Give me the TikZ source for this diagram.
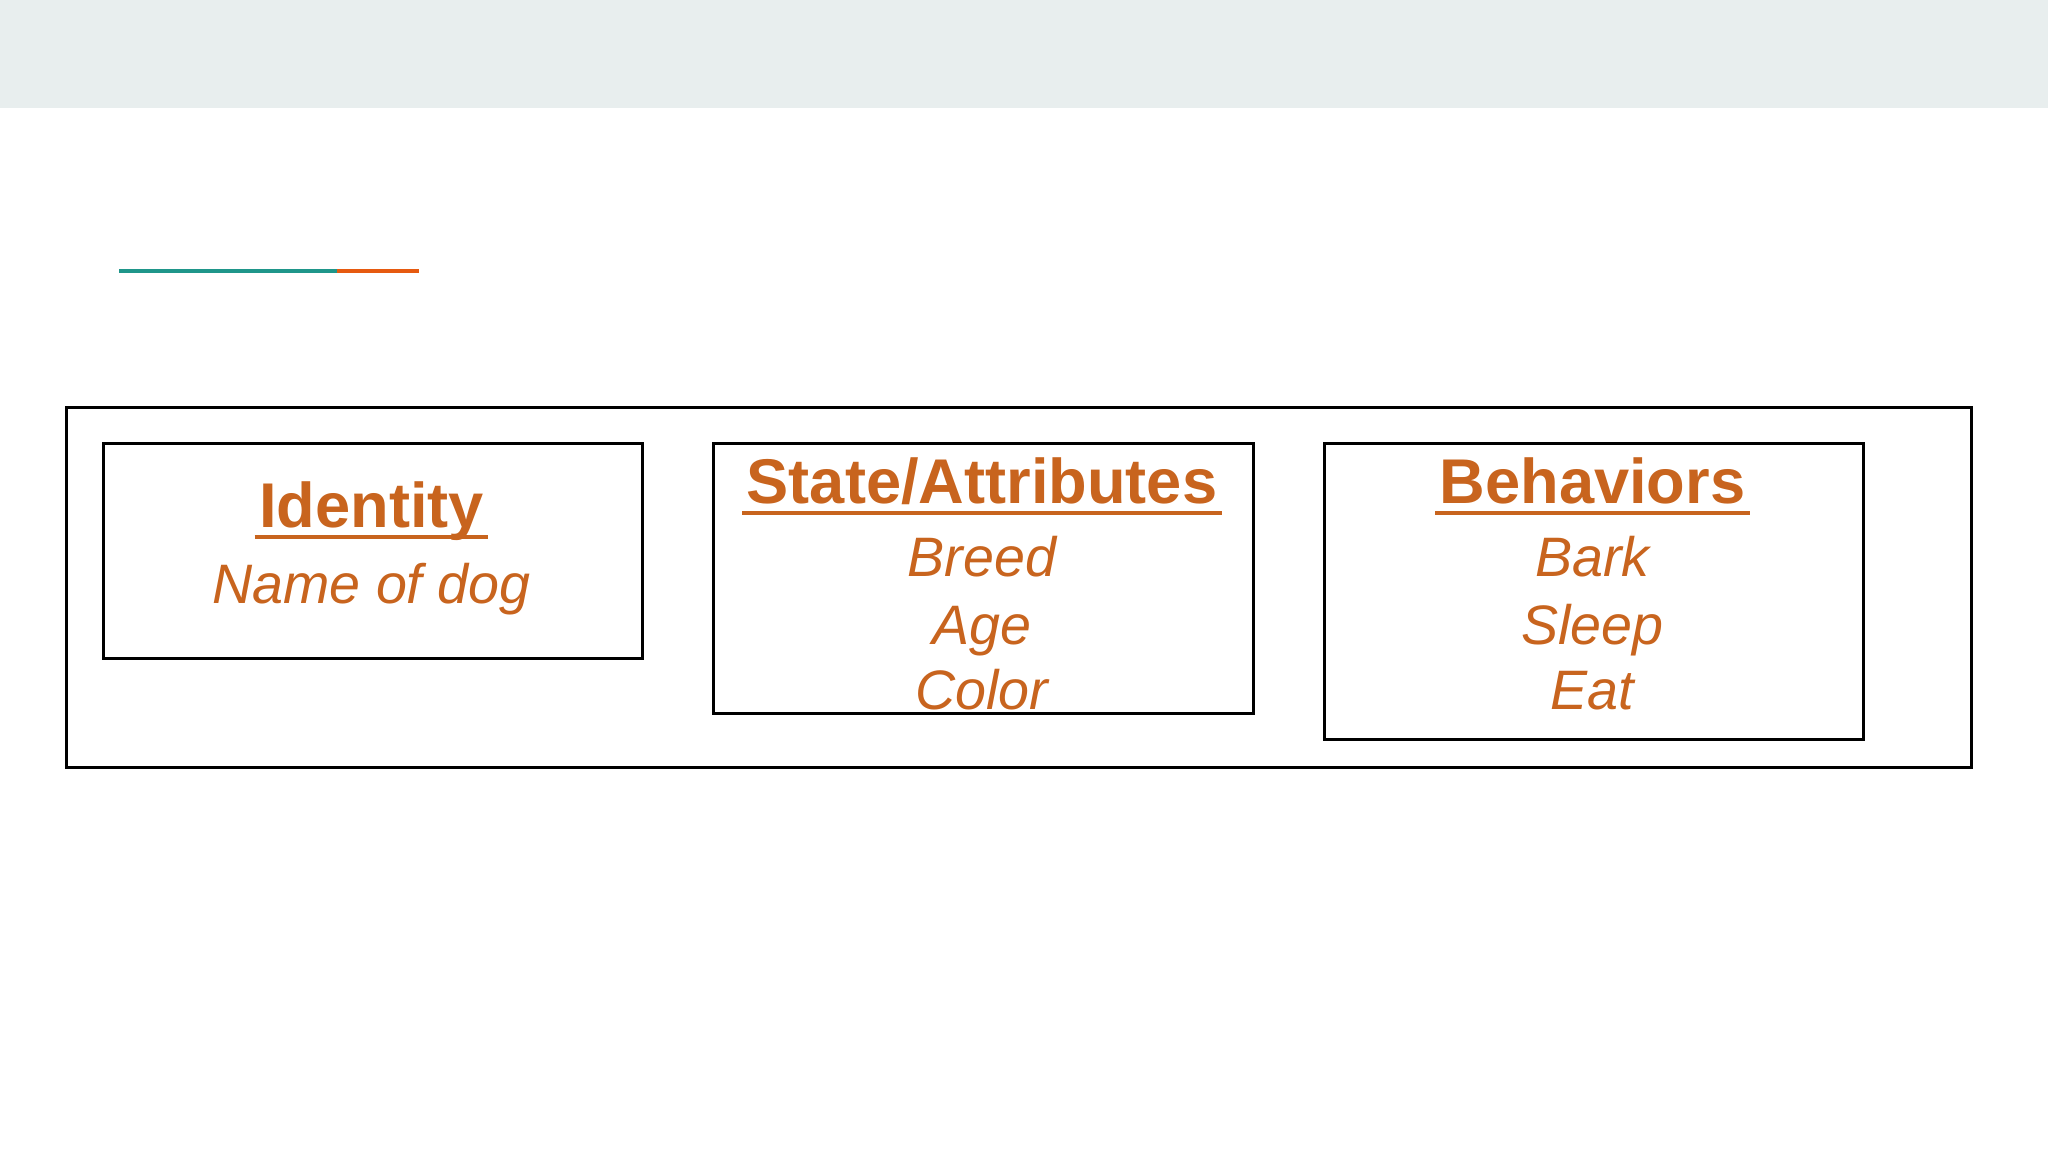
\documentclass[tikz,border=0pt]{standalone}
\usepackage{fontspec}
\setmainfont{Liberation Sans}
\usepackage{xcolor}
\usepackage{tikz}

\definecolor{bandgray}{HTML}{E8EEEE}
\definecolor{lineteal}{HTML}{1F968A}
\definecolor{lineorange}{HTML}{E65A10}
\definecolor{dogorange}{HTML}{C8641E}

\begin{document}
\begin{tikzpicture}[
    x=0.5pt, y=-0.5pt,
    box/.style={draw, line width=1.6pt, anchor=north west, inner sep=0pt},
    title/.style={anchor=base, inner sep=2pt, text=dogorange, font=\fontsize{31.6}{36}\selectfont\bfseries},
    item/.style={anchor=base, inner sep=0pt, text=dogorange, font=\fontsize{27.8}{33}\selectfont\itshape},
    uline/.style={draw=dogorange, line width=2pt}
]
\useasboundingbox (0,0) rectangle (2048,1152);

% header band and accent line
\fill[bandgray] (0,0) rectangle (2048,108);
\coordinate (la) at (119,271);
\coordinate (lb) at (337,271);
\coordinate (lc) at (419,271);
\draw[lineteal, line width=1.75pt] (la) -- (lb);
\draw[lineorange, line width=1.75pt] (lb) -- (lc);

% outer frame
\node [box, minimum width=952.5pt, minimum height=180pt] (dog) at (65,406) {};

% the three boxes
\node [box, minimum width=269.5pt, minimum height=107.5pt] (identity) at (102,442) {};
\node [box, minimum width=270pt, minimum height=135pt] (state) at (712,442) {};
\node [box, minimum width=269.5pt, minimum height=148pt] (behavior) at (1323,442) {};

% Identity
\node [title] (idtitle) at (371.5,527) {Identity};
\draw [uline] ([yshift=-5pt]idtitle.base west) -- ([yshift=-5pt]idtitle.base east);
\node [item] (idname) at (371.5,603) {Name of dog};

% State/Attributes
\node [title] (sttitle) at (982,503) {State/Attributes};
\draw [uline] ([yshift=-5pt]sttitle.base west) -- ([yshift=-5pt]sttitle.base east);
\foreach \txt/\yy [count=\i] in {Breed/576, Age/644, Color/709}
    \node [item] (state\i) at (982,\yy) {\txt};

% Behaviors
\node [title] (bhtitle) at (1592.5,503) {Behaviors};
\draw [uline] ([yshift=-5pt]bhtitle.base west) -- ([yshift=-5pt]bhtitle.base east);
\foreach \txt/\yy [count=\i] in {Bark/576, Sleep/644, Eat/709}
    \node [item] (behavior\i) at (1592.5,\yy) {\txt};
\end{tikzpicture}
\end{document}
